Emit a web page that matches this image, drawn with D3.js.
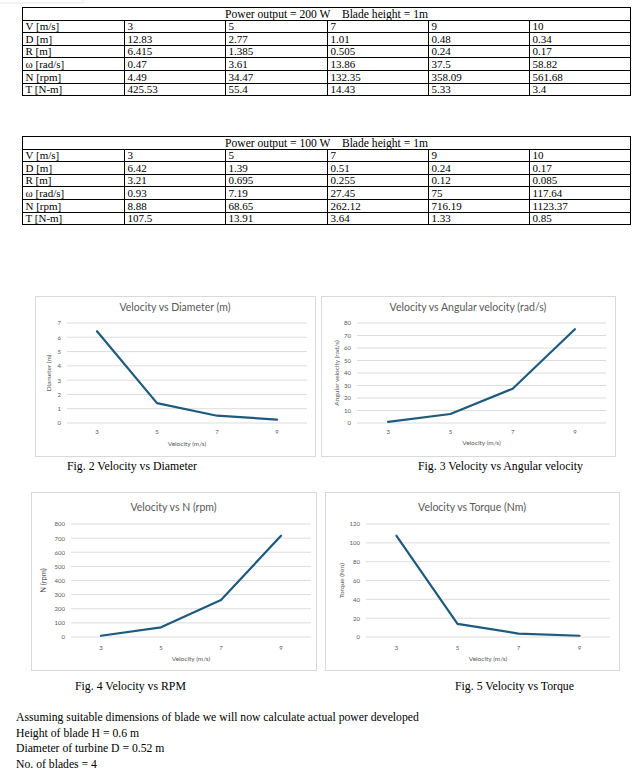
<!DOCTYPE html>
<html><head><meta charset="utf-8">
<script src="https://cdn.jsdelivr.net/npm/d3@7"></script>
<style>
body{margin:0;background:#fff;}
svg{display:block;}
</style></head>
<body>
<svg id="page" width="643" height="776"></svg>
<script>
// ---------- DATA ----------
const rowLabels = ["V [m/s]","D [m]","R [m]","ω [rad/s]","N [rpm]","T [N-m]"];
const table200 = [
  ["3","5","7","9","10"],
  ["12.83","2.77","1.01","0.48","0.34"],
  ["6.415","1.385","0.505","0.24","0.17"],
  ["0.47","3.61","13.86","37.5","58.82"],
  ["4.49","34.47","132.35","358.09","561.68"],
  ["425.53","55.4","14.43","5.33","3.4"]
];
const table100 = [
  ["3","5","7","9","10"],
  ["6.42","1.39","0.51","0.24","0.17"],
  ["3.21","0.695","0.255","0.12","0.085"],
  ["0.93","7.19","27.45","75","117.64"],
  ["8.88","68.65","262.12","716.19","1123.37"],
  ["107.5","13.91","3.64","1.33","0.85"]
];
const velocity = [3,5,7,9];
const diameter = [6.42,1.39,0.51,0.24];
const angularVelocity = [0.93,7.19,27.45,75];
const rpm = [8.88,68.65,262.12,716.19];
const torque = [107.5,13.91,3.64,1.33];
const bodyLines = [
  "Assuming suitable dimensions of blade we will now calculate actual power developed",
  "Height of blade H = 0.6 m",
  "Diameter of turbine D = 0.52 m",
  "No. of blades = 4"
];

const svg = d3.select("#page");
const serif = "'Liberation Serif','Times New Roman',serif";
const sans = "Lato,'Open Sans',sans-serif";

// faint box top-left
svg.append("rect").attr("x",-1).attr("y",-1).attr("width",84).attr("height",4)
  .attr("fill","none").attr("stroke","#e6e6e6");

// ---------- TABLES ----------
function drawTable(top, title, rows){
  const x0 = 22.5, x1 = 630.5, rh = 12.6;
  const colW = (x1-x0)/6;
  const g = svg.append("g");
  const nRows = rows.length + 1;
  const y1 = Math.round(top + nRows*rh)+0.5;
  const ry = r => Math.round(top + r*rh)+0.5;
  const cx = c => Math.round(x0 + c*colW)+0.5;
  g.append("rect").attr("x",x0).attr("y",top+0.5).attr("width",x1-x0).attr("height",y1-top-0.5)
    .attr("fill","none").attr("stroke","#000").attr("stroke-width",1);
  for(let r=1;r<nRows;r++){
    g.append("line").attr("x1",x0).attr("x2",x1).attr("y1",ry(r)).attr("y2",ry(r))
      .attr("stroke","#000").attr("stroke-width",1);
  }
  for(let c=1;c<6;c++){
    g.append("line").attr("x1",cx(c)).attr("x2",cx(c)).attr("y1",ry(1)).attr("y2",y1)
      .attr("stroke","#000").attr("stroke-width",1);
  }
  g.append("text").attr("x",(x0+x1)/2).attr("y",ry(1)-2.5).attr("text-anchor","middle")
    .attr("font-family",serif).attr("font-size",11.6).attr("xml:space","preserve").text(title);
  rows.forEach((row,i)=>{
    const yb = ry(i+2)-2.5;
    g.append("text").attr("x",x0+3).attr("y",yb).attr("font-family",serif).attr("font-size",11).text(rowLabels[i]);
    row.forEach((v,j)=>{
      g.append("text").attr("x",cx(j+1)+3).attr("y",yb).attr("font-family",serif).attr("font-size",11).text(v);
    });
  });
}
drawTable(7, "Power output = 200 W    Blade height = 1m", table200);
drawTable(136, "Power output = 100 W    Blade height = 1m", table100);

// ---------- CHARTS ----------
function drawChart(o){
  const g = svg.append("g");
  g.append("rect").attr("x",o.fx+0.5).attr("y",o.fy+0.5).attr("width",o.fw).attr("height",o.fh)
    .attr("fill","#fff").attr("stroke","#d9d9d9").attr("stroke-width",1);
  const x = d3.scaleBand().domain(velocity).range([o.px0,o.px1]);
  const y = d3.scaleLinear().domain([0,o.ymax]).range([o.py1,o.py0]);
  const ticks = d3.range(0,o.ymax+o.step/2,o.step);
  // gridlines
  g.append("g").selectAll("line").data(ticks).join("line")
    .attr("x1",o.px0).attr("x2",o.px1).attr("y1",d=>y(d)).attr("y2",d=>y(d))
    .attr("stroke","#d9d9d9").attr("stroke-width",0.9);
  // y tick labels
  const ya = d3.axisLeft(y).tickValues(ticks).tickSize(0).tickPadding(6).tickFormat(d3.format("d"));
  const yg = g.append("g").attr("transform",`translate(${o.px0},0)`).call(ya);
  yg.select(".domain").remove();
  yg.selectAll("text").attr("font-family",sans).attr("font-size",o.tickFs).attr("fill","#595959");
  // x tick labels
  const xa = d3.axisBottom(x).tickSize(0).tickPadding(o.xPad);
  const xg = g.append("g").attr("transform",`translate(0,${o.py1})`).call(xa);
  xg.select(".domain").remove();
  xg.selectAll("text").attr("font-family",sans).attr("font-size",o.tickFs).attr("fill","#595959");
  // line
  const line = d3.line().x((d,i)=>x(velocity[i])+x.bandwidth()/2).y(d=>y(d));
  g.append("path").datum(o.values).attr("d",line).attr("fill","none")
    .attr("stroke","#1d5a7d").attr("stroke-width",2.2).attr("stroke-linejoin","round").attr("stroke-linecap","round");
  // title
  g.append("text").attr("x",o.fx+o.fw/2).attr("y",o.titleY).attr("text-anchor","middle")
    .attr("font-family",sans).attr("font-size",o.titleFs).attr("fill","#595959").text(o.title);
  // x title
  g.append("text").attr("x",(o.px0+o.px1)/2).attr("y",o.xtY).attr("text-anchor","middle")
    .attr("font-family",sans).attr("font-size",o.axFs).attr("fill","#595959").text("Velocity (m/s)");
  // y title
  g.append("text").attr("transform",`translate(${o.ytX},${(o.py0+o.py1)/2}) rotate(-90)`)
    .attr("text-anchor","middle").attr("font-family",sans).attr("font-size",o.ytFs||o.axFs).attr("fill","#595959").text(o.yTitle);
}

drawChart({fx:35,fy:296,fw:280,fh:160, px0:67,px1:307,py0:323,py1:423, ymax:7,step:1,
  values:diameter, title:"Velocity vs Diameter (m)", yTitle:"Diameter (m)",
  titleY:311, xtY:446, ytX:51, tickFs:6, axFs:6.5, titleFs:10.5, xPad:7});
drawChart({fx:321,fy:296,fw:294,fh:160, px0:357,px1:606,py0:323,py1:423, ymax:80,step:10,
  values:angularVelocity, title:"Velocity vs Angular velocity (rad/s)", yTitle:"Angular velocity (rad/s)",
  titleY:311, xtY:445, ytX:339, tickFs:6, axFs:6.5, titleFs:10.5, xPad:7});
drawChart({fx:31,fy:492,fw:285,fh:178, px0:71,px1:311,py0:524,py1:637, ymax:800,step:100,
  values:rpm, title:"Velocity vs N (rpm)", yTitle:"N (rpm)",
  titleY:511, xtY:661, ytX:46, tickFs:6, axFs:6.5, ytFs:7.5, titleFs:10.5, xPad:9});
drawChart({fx:325,fy:492,fw:294,fh:178, px0:366,px1:610,py0:524,py1:637, ymax:120,step:20,
  values:torque, title:"Velocity vs Torque (Nm)", yTitle:"Torque (Nm)",
  titleY:511, xtY:661, ytX:344, tickFs:6, axFs:6.5, titleFs:10.5, xPad:9});

// ---------- CAPTIONS ----------
const caps = [
  {t:"Fig. 2 Velocity vs Diameter", x:67, y:470},
  {t:"Fig. 3 Velocity vs Angular velocity", x:418, y:470},
  {t:"Fig. 4 Velocity vs RPM", x:75, y:690},
  {t:"Fig. 5 Velocity vs Torque", x:455, y:690}
];
svg.selectAll("text.cap").data(caps).join("text").attr("class","cap")
  .attr("x",d=>d.x).attr("y",d=>d.y).attr("font-family",serif).attr("font-size",11.8).text(d=>d.t);

svg.selectAll("text.body").data(bodyLines).join("text").attr("class","body")
  .attr("x",16).attr("y",(d,i)=>721+i*15.5).attr("font-family",serif).attr("font-size",11.7).text(d=>d);
</script>
</body></html>
